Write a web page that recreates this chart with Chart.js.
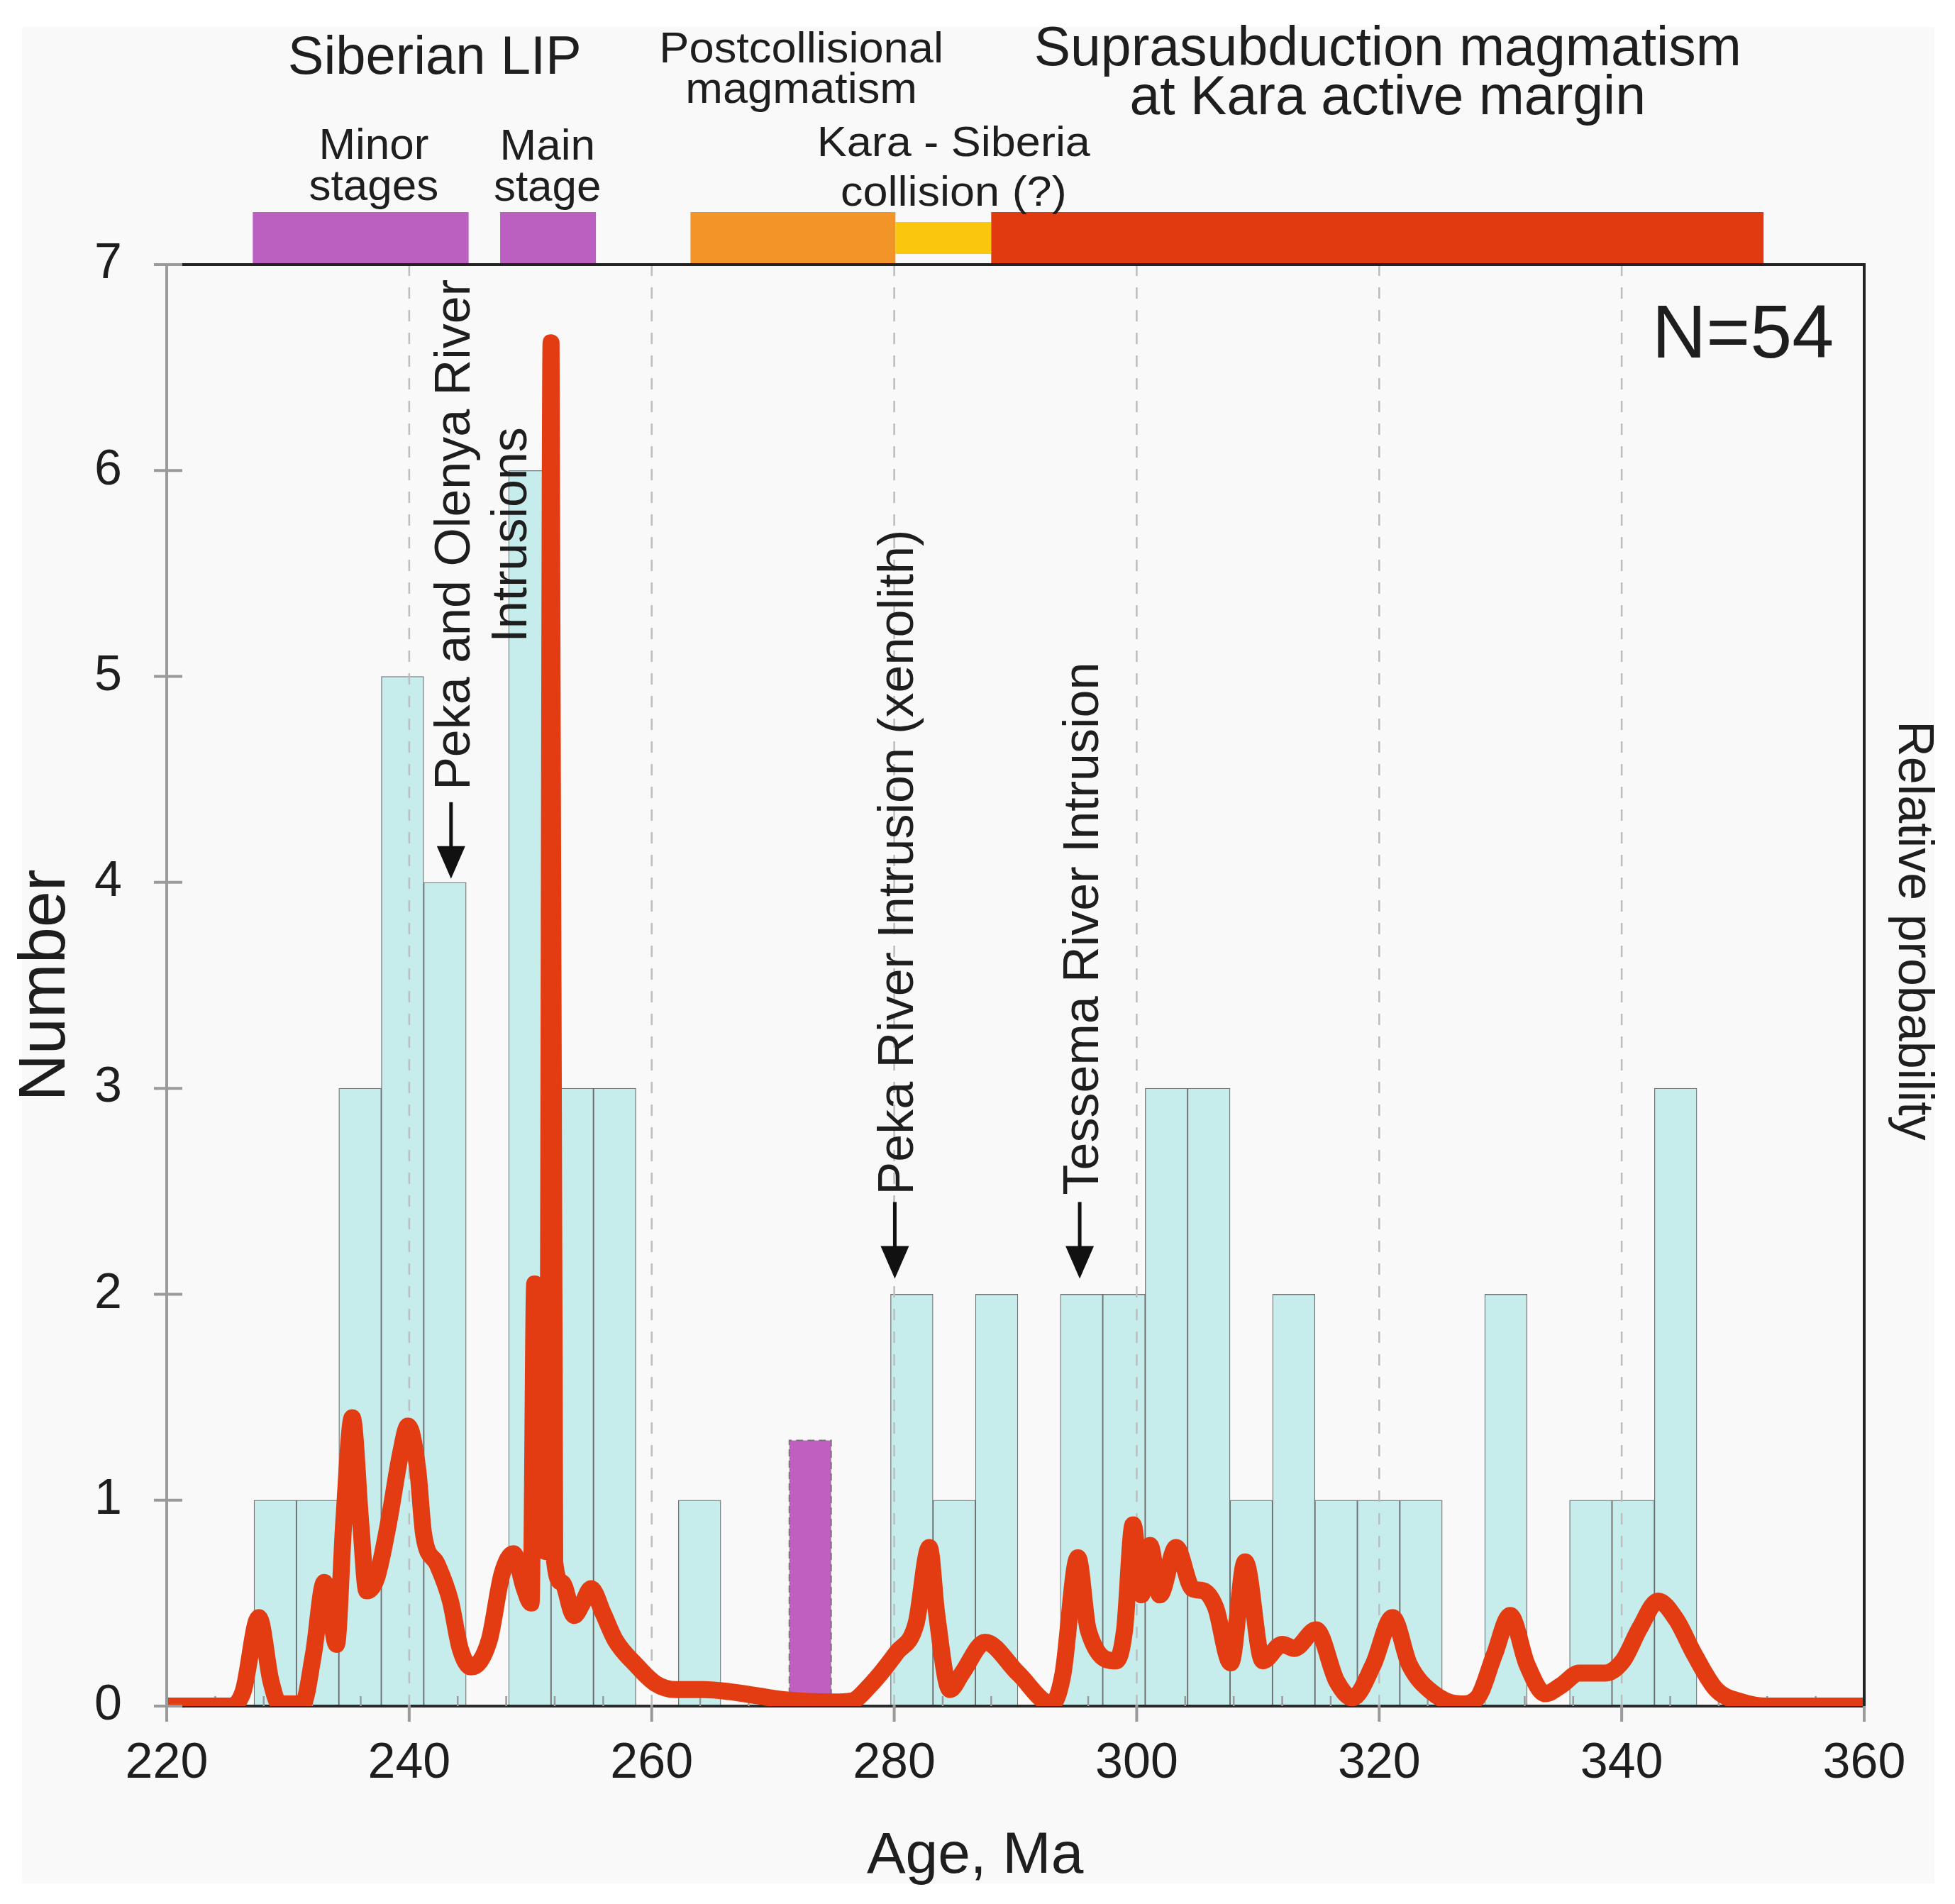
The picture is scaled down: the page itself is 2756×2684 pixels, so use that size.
<!DOCTYPE html>
<html><head><meta charset="utf-8">
<script src="https://cdn.jsdelivr.net/npm/chart.js@4.4.1/dist/chart.umd.min.js"></script>
<style>html,body{margin:0;padding:0;background:#fff;} #wrap{width:2756px;height:2684px;}</style>
</head><body><div id="wrap"><canvas id="c" width="2756" height="2684"></canvas></div>
<script>
// ---------- data ----------
const binStart = [227.2,230.7,234.2,237.7,241.2,244.7,248.2,251.7,255.2,258.7,262.2,265.7,269.2,272.7,276.2,279.7,283.2,286.7,290.2,293.7,297.2,300.7,304.2,307.7,311.2,314.7,318.2,321.7,325.2,328.7,332.2,335.7,339.2,342.7];
const binWidth = 3.5;
const counts   = [1,1,3,5,4,0,6,3,3,0,1,0,0,0,0,2,1,2,0,2,2,3,3,1,2,1,1,1,0,2,0,1,1,3];

const pdfAge = [220,225.2,226.3,227.6,228.6,229.3,231.2,232.1,233.0,233.5,234.0,234.6,235.3,236.0,236.5,237.3,238.3,239.3,239.9,240.7,241.2,242.3,243.4,244.2,245.1,246.6,247.65,248.6,249.5,250.05,250.35,250.7,251.4,251.7,252.0,252.6,253.6,254.3,255.0,256.0,257.0,258.7,260.3,262.0,264.3,266.4,268.7,271.0,275.0,276.5,278.0,280.2,281.8,282.9,283.5,284.6,285.6,287.5,290.2,293.0,293.9,295.15,296.0,298.3,299.0,299.7,300.4,301.1,301.9,303.25,304.6,305.5,306.5,307.75,308.95,310.4,312.0,313.0,314.8,316.5,317.8,319.5,321.1,322.5,324.3,326.7,328.1,329.5,330.8,332.2,333.7,335.0,336.5,338.6,340.1,341.5,343.0,344.5,346.0,347.8,349.9,352.0,360.0];
const pdfValue = [0,0,0.07,0.43,0.12,0.01,0.01,0.25,0.60,0.45,0.30,0.89,1.40,0.89,0.56,0.62,0.89,1.23,1.36,1.15,0.83,0.69,0.51,0.28,0.19,0.32,0.64,0.74,0.57,0.50,2.05,0.80,0.75,6.62,0.70,0.60,0.44,0.50,0.57,0.45,0.32,0.20,0.11,0.08,0.08,0.07,0.05,0.03,0.02,0.025,0.10,0.26,0.40,0.77,0.45,0.08,0.16,0.31,0.16,0.01,0.15,0.72,0.37,0.22,0.37,0.88,0.54,0.78,0.54,0.77,0.57,0.56,0.48,0.21,0.70,0.22,0.30,0.28,0.37,0.12,0.04,0.20,0.43,0.20,0.07,0.01,0.04,0.25,0.44,0.20,0.06,0.10,0.16,0.16,0.22,0.38,0.51,0.42,0.25,0.08,0.02,0,0];

const xTickValues = [220,240,260,280,300,320,340,360];
const yTickValues = [0,1,2,3,4,5,6,7];
const gridAges = [240,260,280,300,320,340];

// separate sample bar (purple)
const sampleBarStart = 271.35, sampleBarEnd = 274.8, sampleBarHeight = 1.29;

// tectonic periods (top bars)
const periodStart = [227.1, 247.5, 263.2, 280.1, 288.0];
const periodEnd   = [244.9, 255.4, 280.1, 288.0, 351.7];
const periodColors = ['#bb60c0','#bb60c0','#f29428','#fac60e','#e23a10'];

const headerTexts = [['Siberian LIP'],['Minor','stages'],['Main','stage'],['Postcollisional','magmatism'],['Kara - Siberia','collision (?)'],['Suprasubduction magmatism','at Kara active margin']];
const headerAges = [242.1, 237.08, 251.4, 272.34, 284.9, 320.7];

const intrusionLabels = [['Peka and Olenya River','Intrusions'],['Peka River Intrusion (xenolith)'],['Tessema River Intrusion']];
const intrusionAges = [243.45, 280.05, 295.3];
const intrusionTargets = [4, 2, 2];

const sampleCount = 'N=54';

// ---------- drawing helpers ----------
const FONT = '"Liberation Sans", Arial, Helvetica, sans-serif';
const TXT = '#1e1e1e';
function txt(ctx, s, x, y, size, opt) {
  opt = opt || {};
  ctx.save();
  ctx.translate(x, y);
  if (opt.rot) ctx.rotate(opt.rot);
  if (opt.sx) ctx.scale(opt.sx, 1);
  ctx.font = size + 'px ' + FONT;
  ctx.fillStyle = opt.color || TXT;
  ctx.textAlign = opt.align || 'center';
  ctx.textBaseline = 'alphabetic';
  ctx.fillText(s, 0, 0);
  ctx.restore();
}

const decor = {
  id: 'decor',
  beforeDraw(chart) {
    const c = chart.ctx;
    c.save();
    c.fillStyle = '#ffffff';
    c.fillRect(0, 0, chart.width, chart.height);
    c.fillStyle = '#f9f9f9';
    c.fillRect(31, 38, 2727 - 31, 2655 - 38);
    c.restore();
  },
  afterDatasetDraw(chart, args) {
    if (args.index !== 0) return;
    const c = chart.ctx, xs = chart.scales.x, ys = chart.scales.y, a = chart.chartArea;
    c.save();
    // dashed vertical grid
    c.strokeStyle = '#bdbdbd'; c.lineWidth = 2.5; c.setLineDash([16, 16]);
    gridAges.forEach(v => {
      const px = xs.getPixelForValue(v);
      c.beginPath(); c.moveTo(px, a.top); c.lineTo(px, a.bottom); c.stroke();
    });
    c.setLineDash([]);
    // purple sample bar
    const x0 = xs.getPixelForValue(sampleBarStart), x1 = xs.getPixelForValue(sampleBarEnd);
    const y0 = ys.getPixelForValue(sampleBarHeight), yb = ys.getPixelForValue(0);
    c.fillStyle = '#bf5fbf';
    c.fillRect(x0, y0, x1 - x0, yb - y0);
    c.strokeStyle = '#777'; c.lineWidth = 2; c.setLineDash([10, 6]);
    c.beginPath(); c.moveTo(x0, yb); c.lineTo(x0, y0); c.lineTo(x1, y0); c.lineTo(x1, yb); c.stroke();
    c.setLineDash([]);
    // bottom axis line
    c.strokeStyle = '#2a2a2a'; c.lineWidth = 4;
    c.beginPath(); c.moveTo(a.left, a.bottom); c.lineTo(a.right, a.bottom); c.stroke();
    // minor ticks (every 4 Ma, inward)
    c.strokeStyle = '#9a9a9a'; c.lineWidth = 2.5;
    for (let v = 224; v < 360; v += 4) {
      if (v % 20 === 0) continue;
      const px = xs.getPixelForValue(v);
      c.beginPath(); c.moveTo(px, a.bottom); c.lineTo(px, a.bottom - 14); c.stroke();
    }
    // major ticks (outward)
    c.lineWidth = 4;
    xTickValues.forEach(v => {
      const px = xs.getPixelForValue(v);
      c.beginPath(); c.moveTo(px, a.bottom - 2); c.lineTo(px, a.bottom + 22); c.stroke();
    });
    c.restore();
  },
  afterDraw(chart) {
    const c = chart.ctx, xs = chart.scales.x, ys = chart.scales.y, a = chart.chartArea;
    c.save();
    // period bars
    periodStart.forEach((s, i) => {
      const px0 = xs.getPixelForValue(s), px1 = xs.getPixelForValue(periodEnd[i]);
      const top = (i === 3) ? a.top - 60 : a.top - 74;
      const bot = (i === 3) ? a.top - 15 : a.top;
      c.fillStyle = periodColors[i];
      c.fillRect(px0, top, px1 - px0, bot - top);
    });
    // left axis (gray)
    c.strokeStyle = '#9a9a9a'; c.lineWidth = 4;
    c.beginPath(); c.moveTo(a.left, a.top); c.lineTo(a.left, a.bottom + 22); c.stroke();
    yTickValues.forEach(v => {
      const py = ys.getPixelForValue(v);
      c.beginPath(); c.moveTo(a.left - 18, py); c.lineTo(a.left + 22, py); c.stroke();
    });
    // top line and right border
    c.strokeStyle = '#222'; c.lineWidth = 4;
    c.beginPath(); c.moveTo(a.left + 22, a.top); c.lineTo(a.right, a.top); c.lineTo(a.right, a.bottom); c.stroke();

    // header texts
    const layout = [
      {base: [-269], size: 76, sx: 1},
      {base: [-149, -91], size: 62, sx: 1.0},
      {base: [-148, -90], size: 62, sx: 1.0},
      {base: [-285, -228], size: 62, sx: 1.02},
      {base: [-153, -83], size: 60, sx: 1.05},
      {base: [-281, -212], size: 77, sx: 1.0}
    ];
    headerTexts.forEach((lines, i) => {
      const px = xs.getPixelForValue(headerAges[i]);
      lines.forEach((ln, j) => txt(c, ln, px, a.top + layout[i].base[j], layout[i].size, {sx: layout[i].sx}));
    });

    // N=54
    txt(c, sampleCount, xs.getPixelForValue(357.49), a.top + 131, 106, {align: 'right'});

    // intrusion arrows and rotated labels
    const tipGap = [5, 22, 22], textGap = [17, 10, 10];
    intrusionAges.forEach((age, i) => {
      const ax = xs.getPixelForValue(age);
      const tip = ys.getPixelForValue(intrusionTargets[i]) - tipGap[i];
      const tail = tip - 108;
      c.strokeStyle = '#111'; c.fillStyle = '#111'; c.lineWidth = 5;
      c.beginPath(); c.moveTo(ax, tail); c.lineTo(ax, tip - 40); c.stroke();
      c.beginPath(); c.moveTo(ax, tip); c.lineTo(ax - 20, tip - 46); c.lineTo(ax + 20, tip - 46); c.closePath(); c.fill();
      const lines = intrusionLabels[i];
      c.font = '70px ' + FONT;
      const w1 = c.measureText(lines[0]).width;
      const start = tail - textGap[i];
      const center = start - w1 / 2;
      lines.forEach((ln, j) => txt(c, ln, ax + 26 + j * 80, center, 70, {rot: -Math.PI / 2}));
    });

    // right axis title
    txt(c, 'Relative probability', a.right + 49, (a.top + a.bottom) / 2 - 77, 70, {rot: Math.PI / 2});
    // x axis title
    txt(c, 'Age, Ma', xs.getPixelForValue(286.67), 2640, 82);
    c.restore();
  }
};

const barData = binStart.map((s, i) => ({x: s + binWidth / 2, y: counts[i] > 0 ? counts[i] : null}));
const pdfData = pdfAge.map((x, i) => ({x: x, y: pdfValue[i]}));

new Chart(document.getElementById('c'), {
  data: {
    datasets: [
      {type: 'bar', label: 'Number', data: barData, order: 2,
       backgroundColor: '#c7ecec', borderColor: 'rgba(80,80,80,0.8)', borderWidth: 1.3,
       barPercentage: 1, categoryPercentage: 1, xAxisID: 'x', yAxisID: 'y'},
      {type: 'line', label: 'Relative probability', data: pdfData, order: 1,
       borderColor: '#e33c12', borderWidth: 24, pointRadius: 0, fill: false,
       cubicInterpolationMode: 'monotone', borderJoinStyle: 'round', borderCapStyle: 'round',
       xAxisID: 'x', yAxisID: 'y2'}
    ]
  },
  options: {
    responsive: false, animation: false, devicePixelRatio: 1,
    layout: {padding: {top: 373, right: 128, left: 0, bottom: 0}},
    plugins: {legend: {display: false}, tooltip: {enabled: false}},
    scales: {
      x: {type: 'linear', position: 'bottom', min: 220, max: 360, offset: false,
          grid: {display: false, drawTicks: false, offset: false}, border: {display: false},
          afterBuildTicks: s => { s.ticks = xTickValues.map(v => ({value: v})); },
          afterFit: s => { s.height = 279; },
          ticks: {font: {size: 70, family: FONT}, color: TXT, padding: 40, maxRotation: 0, autoSkip: false}},
      y: {type: 'linear', position: 'left', min: 0, max: 7,
          grid: {display: false, drawTicks: false}, border: {display: false},
          afterBuildTicks: s => { s.ticks = yTickValues.map(v => ({value: v})); },
          afterFit: s => { s.width = 235; },
          ticks: {font: {size: 70, family: FONT}, color: TXT, padding: 63},
          title: {display: true, text: 'Number', font: {size: 92, family: FONT}, color: TXT, padding: {top: 10, bottom: 0}}},
      y2: {type: 'linear', position: 'right', min: 0, max: 7, display: false}
    }
  },
  plugins: [decor]
});
</script>
</body></html>
